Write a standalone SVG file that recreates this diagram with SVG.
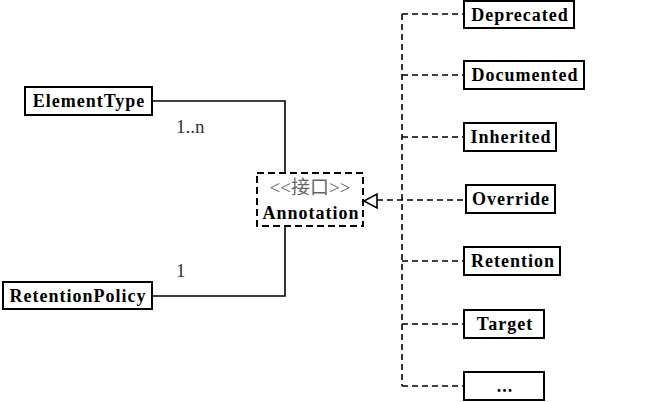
<svg xmlns="http://www.w3.org/2000/svg" width="653" height="402" viewBox="0 0 653 402">
<style>
.box{fill:#fff;stroke:#000;stroke-width:2}
.dbox{fill:#fff;stroke:#000;stroke-width:2;stroke-dasharray:7,4}
.t{font-family:"Liberation Serif","Noto Sans CJK SC",serif;font-weight:bold;font-size:18px;letter-spacing:1px;fill:#000;text-anchor:middle}
.st{font-family:"Liberation Serif","Noto Sans CJK SC",serif;font-size:19px;fill:#666;text-anchor:middle}
.lbl{font-family:"Liberation Serif",serif;font-size:19px;fill:#333}
.solid{fill:none;stroke:#000;stroke-width:1.6}
.dash{fill:none;stroke:#000;stroke-width:1.6;stroke-dasharray:6,4}
</style>
<rect width="653" height="402" fill="#fff"/>
<g id="connectors">
<path class="solid" d="M152,101 H285 V173"/>
<path class="solid" d="M152,296 H285 V226"/>
<path class="dash" d="M402,14 V386"/>
<path class="dash" d="M402,14 H464"/>
<path class="dash" d="M402,75 H464"/>
<path class="dash" d="M402,137 H464"/>
<path class="dash" d="M377,200 H466"/>
<path class="dash" d="M402,261 H464"/>
<path class="dash" d="M402,324 H464"/>
<path class="dash" d="M402,386 H464"/>
<polygon points="364,201 377,194 377,208" fill="#fff" stroke="#000" stroke-width="1.6"/>
<text class="lbl" x="176" y="133">1..n</text>
<text class="lbl" x="176" y="277">1</text>
</g>
<g id="ElementType"><rect class="box" x="25" y="87" width="127" height="28"/><text class="t" x="89" y="107">ElementType</text></g>
<g id="RetentionPolicy"><rect class="box" x="3" y="282" width="149" height="27"/><text class="t" x="78" y="302">RetentionPolicy</text></g>
<g id="Annotation"><rect class="dbox" x="257" y="173" width="106" height="53"/><text class="st" x="310" y="194">&lt;&lt;接口&gt;&gt;</text><text class="t" x="311" y="219">Annotation</text></g>
<g id="Deprecated"><rect class="box" x="464" y="1" width="110" height="27"/><text class="t" x="520" y="21">Deprecated</text></g>
<g id="Documented"><rect class="box" x="464" y="61" width="120" height="28"/><text class="t" x="525" y="81">Documented</text></g>
<g id="Inherited"><rect class="box" x="464" y="123" width="92" height="28"/><text class="t" x="511" y="143">Inherited</text></g>
<g id="Override"><rect class="box" x="466" y="185" width="89" height="28"/><text class="t" x="511" y="205">Override</text></g>
<g id="Retention"><rect class="box" x="464" y="247" width="96" height="28"/><text class="t" x="513" y="267">Retention</text></g>
<g id="Target"><rect class="box" x="464" y="310" width="80" height="28"/><text class="t" x="505" y="330">Target</text></g>
<g id="More"><rect class="box" x="464" y="372" width="80" height="28"/><text class="t" x="505" y="392">...</text></g>
</svg>
